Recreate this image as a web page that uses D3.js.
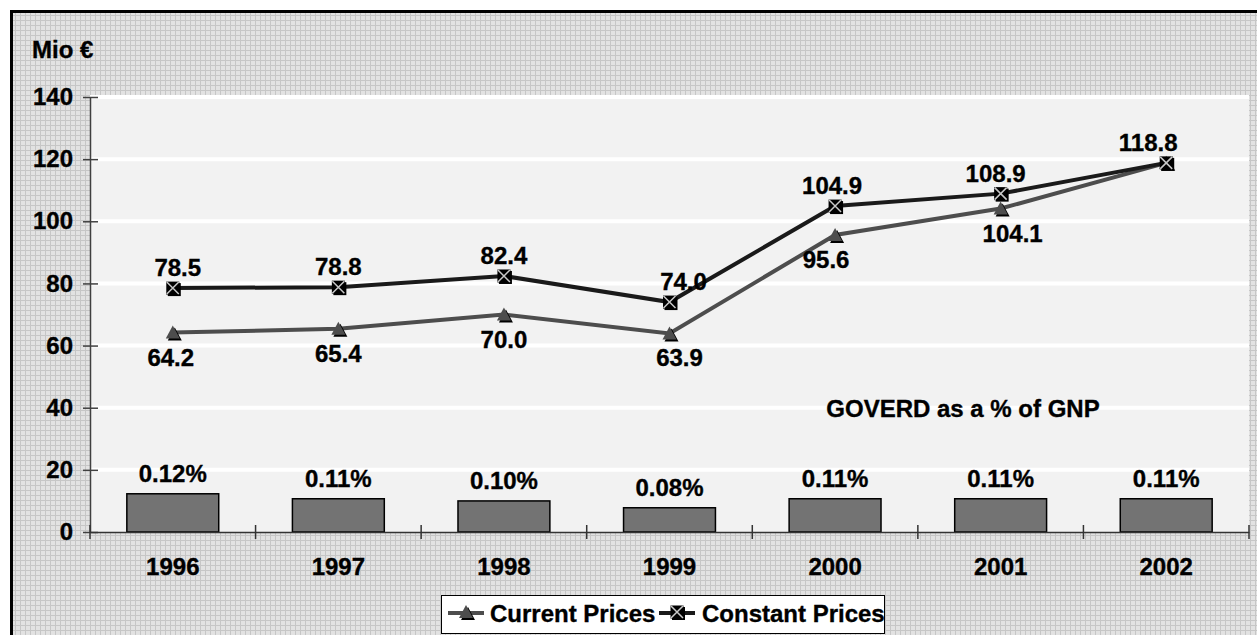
<!DOCTYPE html>
<html>
<head>
<meta charset="utf-8">
<script src="https://cdn.jsdelivr.net/npm/d3@7"></script>
<style>
  html, body { margin: 0; background: #fff; overflow: hidden; }
  svg { display: block; }
  text { font-family: Arial, "Liberation Sans", sans-serif; font-weight: bold; fill: #000; stroke: #000; stroke-width: 0.35px; }
</style>
</head>
<body>
<svg id="chart"></svg>
<script>
const years = ['1996', '1997', '1998', '1999', '2000', '2001', '2002'];
const currentPrices = [64.2, 65.4, 70.0, 63.9, 95.6, 104.1, 118.8];
const constantPrices = [78.5, 78.8, 82.4, 74.0, 104.9, 108.9, 118.8];
const goverdLabels = ['0.12%', '0.11%', '0.10%', '0.08%', '0.11%', '0.11%', '0.11%'];
const goverdBars = [12.3, 10.7, 10.0, 7.8, 10.7, 10.7, 10.7];
const yTicks = [0, 20, 40, 60, 80, 100, 120, 140];

const width = 1257;
const height = 635;
const plotLeft = 90, plotRight = 1249, plotTop = 97, plotBottom = 532;
const fontSize = 24;

// label nudges, the way the original placed them
const constShift = [5, 0, 0, 14, -3, -5, -18];
const currShift = [-2, 0, 0, 10, -9, 12, 0];

const svg = d3.select('#chart').attr('width', width).attr('height', height);

const defs = svg.append('defs');
const pat = defs.append('pattern')
  .attr('id', 'grid')
  .attr('width', 5).attr('height', 5)
  .attr('patternUnits', 'userSpaceOnUse');
pat.append('rect').attr('width', 5).attr('height', 5).attr('fill', '#e2e2e2');
pat.append('path').attr('d', 'M0,0.5H5M0.5,0V5').attr('stroke', '#c6c6c6').attr('stroke-width', 1);

// outer chart frame, runs off the page on right and bottom
svg.append('rect')
  .attr('x', 11).attr('y', 11)
  .attr('width', width - 11).attr('height', height - 11)
  .attr('fill', 'url(#grid)');
svg.append('path')
  .attr('d', 'M11.5,' + height + 'V11.5H' + width)
  .attr('fill', 'none')
  .attr('stroke', '#000').attr('stroke-width', 3);

const y = d3.scaleLinear().domain([0, 140]).range([plotBottom, plotTop]);
const xBand = d3.scaleBand().domain(years).range([plotLeft, plotRight])
  .paddingInner(0.445).paddingOuter(0.2225);
const xPt = d3.scalePoint().domain(years).range([plotLeft, plotRight]).padding(0.5);

// plot area
svg.append('rect')
  .attr('x', plotLeft).attr('y', plotTop)
  .attr('width', plotRight - plotLeft).attr('height', plotBottom - plotTop)
  .attr('fill', '#f2f2f2');

svg.append('g')
  .selectAll('line')
  .data(yTicks.filter(d => d > 0))
  .enter()
  .append('line')
  .attr('x1', plotLeft).attr('x2', plotRight)
  .attr('y1', d => y(d)).attr('y2', d => y(d))
  .attr('stroke', '#fff').attr('stroke-width', 4);

// y axis
const yAxis = d3.axisLeft(y).tickValues(yTicks).tickSizeInner(7).tickSizeOuter(0).tickPadding(10);
const yG = svg.append('g').attr('transform', 'translate(' + plotLeft + ',0)').call(yAxis);
yG.select('.domain').attr('stroke', '#404040').attr('stroke-width', 1.5);
yG.selectAll('.tick line').attr('x1', 0).attr('x2', -7).attr('stroke', '#404040').attr('stroke-width', 1.5);
yG.selectAll('.tick').append('line').attr('x1', 0).attr('x2', 8).attr('stroke', '#404040').attr('stroke-width', 1.5);
yG.selectAll('.tick text')
  .attr('font-size', fontSize).attr('x', -17);

svg.append('text')
  .attr('x', 32).attr('y', 58)
  .attr('font-size', fontSize)
  .text('Mio €');

// bars
svg.append('g')
  .selectAll('rect')
  .data(goverdBars)
  .enter()
  .append('rect')
  .attr('x', (d, i) => xBand(years[i]))
  .attr('y', d => y(d))
  .attr('width', xBand.bandwidth())
  .attr('height', d => plotBottom - y(d))
  .attr('fill', '#737373')
  .attr('stroke', '#000').attr('stroke-width', 1.5);

svg.append('g')
  .selectAll('text')
  .data(goverdLabels)
  .enter()
  .append('text')
  .attr('x', (d, i) => xPt(years[i]))
  .attr('y', (d, i) => y(goverdBars[i]) - 12)
  .attr('text-anchor', 'middle')
  .attr('font-size', fontSize)
  .text(d => d);

// x axis
const xAxis = d3.axisBottom(xBand).tickSize(0).tickPadding(26);
const xG = svg.append('g').attr('transform', 'translate(0,' + plotBottom + ')').call(xAxis);
xG.select('.domain').attr('stroke', '#333').attr('stroke-width', 1.5);
xG.selectAll('.tick text').attr('font-size', fontSize);
xG.selectAll('.sep')
  .data(d3.range(years.length + 1))
  .enter()
  .append('line')
  .attr('x1', i => plotLeft + i * xBand.step())
  .attr('x2', i => plotLeft + i * xBand.step())
  .attr('y1', -7).attr('y2', 7)
  .attr('stroke', '#333').attr('stroke-width', 1.5);

svg.append('text')
  .attr('x', 963).attr('y', 417)
  .attr('text-anchor', 'middle')
  .attr('font-size', fontSize)
  .text('GOVERD as a % of GNP');

// lines
const line = d3.line().x((d, i) => xPt(years[i])).y(d => y(d));

const triangle = (g, cx, cy) => {
  g.append('path')
    .attr('d', 'M' + (cx + 2) + ',' + (cy - 5) + 'L' + (cx + 9) + ',' + (cy + 8) + 'L' + (cx - 5) + ',' + (cy + 8) + 'Z')
    .attr('fill', '#000');
  g.append('path')
    .attr('d', 'M' + cx + ',' + (cy - 7) + 'L' + (cx + 7) + ',' + (cy + 6) + 'L' + (cx - 7) + ',' + (cy + 6) + 'Z')
    .attr('fill', '#4d4d4d');
};

const squareX = (g, cx, cy) => {
  g.append('rect').attr('x', cx - 5).attr('y', cy - 5).attr('width', 13).attr('height', 13).attr('fill', '#000');
  g.append('rect').attr('x', cx - 6.5).attr('y', cy - 6.5).attr('width', 13).attr('height', 13).attr('fill', '#000');
  g.append('path')
    .attr('d', 'M' + (cx - 6) + ',' + (cy - 6) + 'L' + (cx + 6) + ',' + (cy + 6) + 'M' + (cx + 6) + ',' + (cy - 6) + 'L' + (cx - 6) + ',' + (cy + 6))
    .attr('stroke', '#c8c8c8').attr('stroke-width', 1.5);
};

svg.append('path')
  .datum(currentPrices)
  .attr('d', line)
  .attr('fill', 'none')
  .attr('stroke', '#4d4d4d').attr('stroke-width', 4);

const curMarks = svg.append('g');
currentPrices.forEach((d, i) => triangle(curMarks, xPt(years[i]), y(d)));

svg.append('path')
  .datum(constantPrices)
  .attr('d', line)
  .attr('fill', 'none')
  .attr('stroke', '#1a1a1a').attr('stroke-width', 4);

const conMarks = svg.append('g');
constantPrices.forEach((d, i) => squareX(conMarks, xPt(years[i]), y(d)));

// value labels
svg.append('g')
  .selectAll('text')
  .data(currentPrices.slice(0, 6))
  .enter()
  .append('text')
  .attr('x', (d, i) => xPt(years[i]) + currShift[i])
  .attr('y', d => y(d) + 33)
  .attr('text-anchor', 'middle')
  .attr('font-size', fontSize)
  .text(d => d.toFixed(1));

svg.append('g')
  .selectAll('text')
  .data(constantPrices)
  .enter()
  .append('text')
  .attr('x', (d, i) => xPt(years[i]) + constShift[i])
  .attr('y', d => y(d) - 12)
  .attr('text-anchor', 'middle')
  .attr('font-size', fontSize)
  .text(d => d.toFixed(1));

// legend
const lg = svg.append('g');
lg.append('rect')
  .attr('x', 441.5).attr('y', 595.5)
  .attr('width', 443).attr('height', 38)
  .attr('fill', '#fff').attr('stroke', '#000').attr('stroke-width', 1);
lg.append('line').attr('x1', 448).attr('x2', 484).attr('y1', 613).attr('y2', 613)
  .attr('stroke', '#4d4d4d').attr('stroke-width', 4);
triangle(lg, 466, 612);
lg.append('text').attr('x', 490).attr('y', 622).attr('font-size', fontSize).text('Current Prices');
lg.append('line').attr('x1', 659).attr('x2', 695).attr('y1', 613).attr('y2', 613)
  .attr('stroke', '#1a1a1a').attr('stroke-width', 4);
squareX(lg, 677, 612);
lg.append('text').attr('x', 702).attr('y', 622).attr('font-size', fontSize).text('Constant Prices');
</script>
</body>
</html>
